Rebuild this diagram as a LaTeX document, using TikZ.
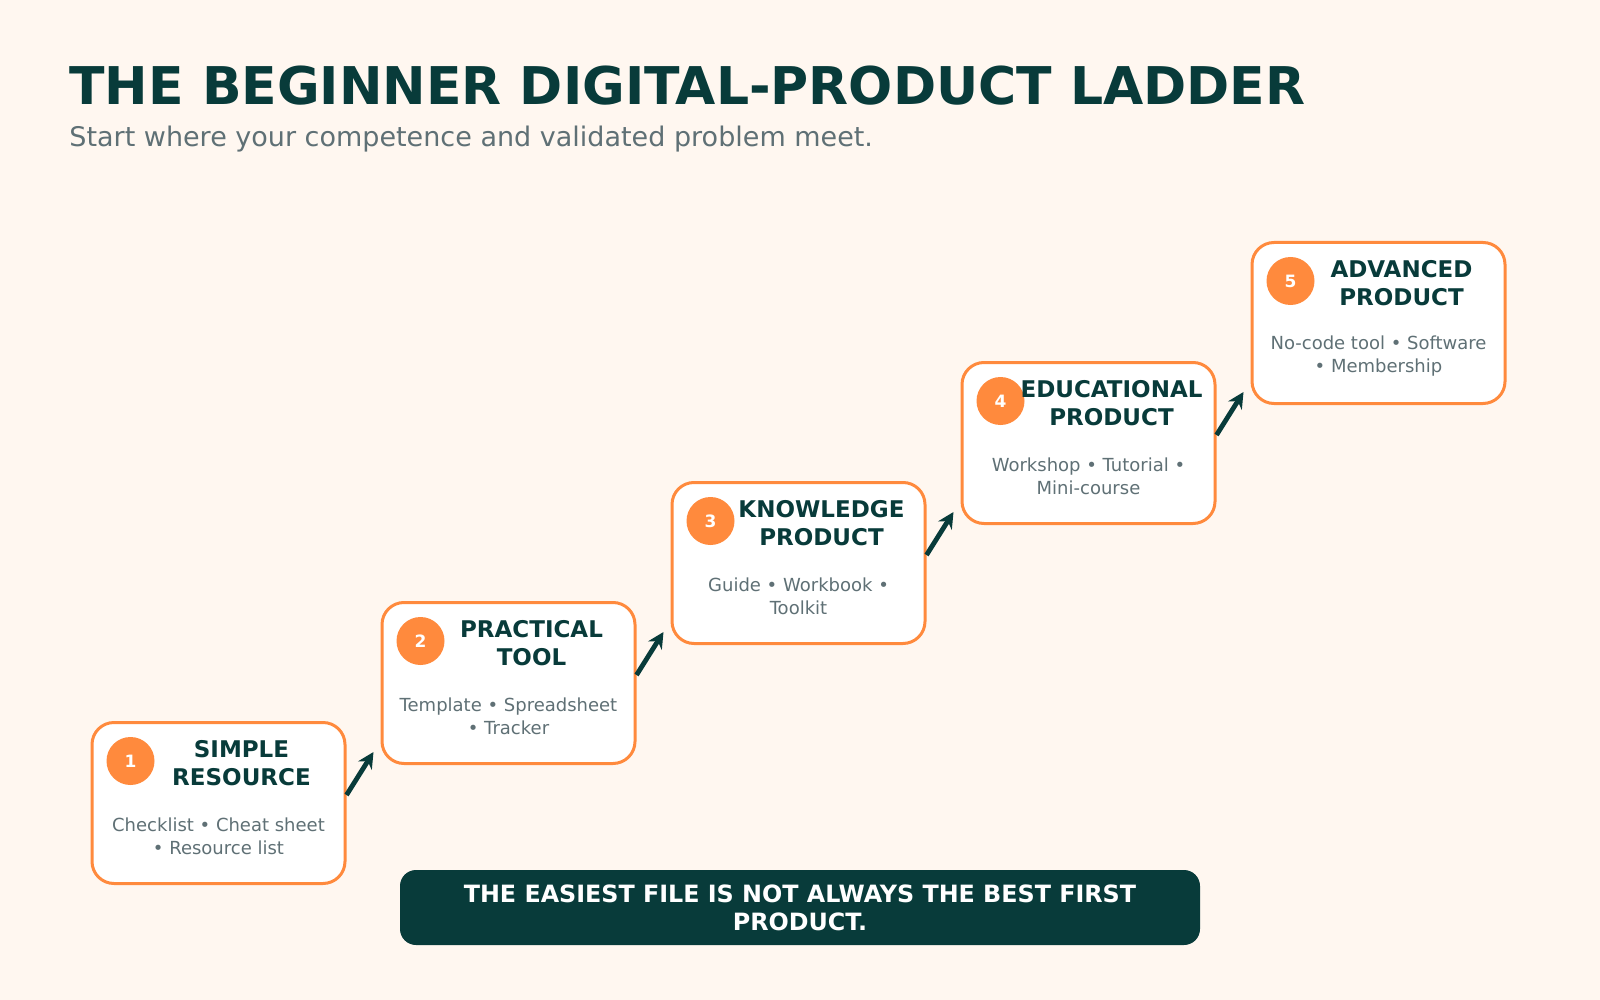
\documentclass[tikz,border=0pt]{standalone}
\usepackage{fontspec}
\setmainfont{DejaVu Sans}
\usetikzlibrary{positioning,
        calc,
        arrows.meta}
\definecolor{ink}{HTML}{083B3A}
\definecolor{tangerine}{HTML}{FF8A3D}
\definecolor{cream}{HTML}{FFF7F0}
\definecolor{slate}{HTML}{5F7075}

\begin{document}
\begin{tikzpicture}[x=0.5pt,y=-0.5pt,
        rung/.style={rectangle,draw=tangerine,line width=1.5pt,fill=white,rounded corners=11pt,minimum width=126.5pt,minimum height=80.5pt},
        badge/.style={circle,fill=tangerine,minimum size=24pt,inner sep=0pt,text=white,font=\bfseries\fontsize{8.5}{9}\selectfont},
        rungtitle/.style={align=center,inner sep=0pt,text=ink,font=\bfseries\fontsize{11.5}{14}\selectfont},
        rungtext/.style={align=center,inner sep=0pt,text=slate,font=\fontsize{9}{11.5}\selectfont},
        climb/.style={-{Stealth[length=8pt,width=8pt]},line width=2.4pt,draw=ink}]
            \fill [cream] (0,0) rectangle (1600,1000);
            \useasboundingbox (0,0) rectangle (1600,1000);

            % heading
            \node [anchor=base west,inner sep=0pt,text=ink,font=\bfseries\fontsize{26}{30}\selectfont] (head) at (69,105) {THE BEGINNER DIGITAL-PRODUCT LADDER};
            \node [anchor=base west,inner sep=0pt,text=slate,font=\fontsize{13.5}{16}\selectfont] (sub) at (69,147) {Start where your competence and validated problem meet.};

            % steps
            \node [rung] (b1) at (218.5,803) {};
            \node [badge] (n1) at ($(b1.north west)+(40,40)$) {1};
            \node [rungtitle] (t1) at ($(b1.north west)+(151,42.5)$) {SIMPLE\\RESOURCE};
            \node [rungtext] (d1) at ($(b1.center)+(0,33.5)$) {Checklist • Cheat sheet\\• Resource list};

            \node [rung] (b2) at (508.5,683) {};
            \node [badge] (n2) at ($(b2.north west)+(40,40)$) {2};
            \node [rungtitle] (t2) at ($(b2.north west)+(151,42.5)$) {PRACTICAL\\TOOL};
            \node [rungtext] (d2) at ($(b2.center)+(0,33.5)$) {Template • Spreadsheet\\• Tracker};

            \node [rung] (b3) at (798.5,563) {};
            \node [badge] (n3) at ($(b3.north west)+(40,40)$) {3};
            \node [rungtitle] (t3) at ($(b3.north west)+(151,42.5)$) {KNOWLEDGE\\PRODUCT};
            \node [rungtext] (d3) at ($(b3.center)+(0,33.5)$) {Guide • Workbook •\\Toolkit};

            \node [rung] (b4) at (1088.5,443) {};
            \node [badge] (n4) at ($(b4.north west)+(40,40)$) {4};
            \node [rungtitle] (t4) at ($(b4.north west)+(151,42.5)$) {EDUCATIONAL\\PRODUCT};
            \node [rungtext] (d4) at ($(b4.center)+(0,33.5)$) {Workshop • Tutorial •\\Mini-course};

            \node [rung] (b5) at (1378.5,323) {};
            \node [badge] (n5) at ($(b5.north west)+(40,40)$) {5};
            \node [rungtitle] (t5) at ($(b5.north west)+(151,42.5)$) {ADVANCED\\PRODUCT};
            \node [rungtext] (d5) at ($(b5.center)+(0,33.5)$) {No-code tool • Software\\• Membership};

            \draw [climb] ($(b1.east)+(0,-8)$) -- ($(b2.south west)+(-7,-13)$);
            \draw [climb] ($(b2.east)+(0,-8)$) -- ($(b3.south west)+(-7,-13)$);
            \draw [climb] ($(b3.east)+(0,-8)$) -- ($(b4.south west)+(-7,-13)$);
            \draw [climb] ($(b4.east)+(0,-8)$) -- ($(b5.south west)+(-7,-13)$);

            % banner
            \node [rectangle,rounded corners=8pt,fill=ink,minimum width=400pt,minimum height=37.5pt,align=center,text=white,font=\bfseries\fontsize{11.9}{14}\selectfont] (moral) at (800,907.5) {THE EASIEST FILE IS NOT ALWAYS THE BEST FIRST\\PRODUCT.};
        \end{tikzpicture}
\end{document}
